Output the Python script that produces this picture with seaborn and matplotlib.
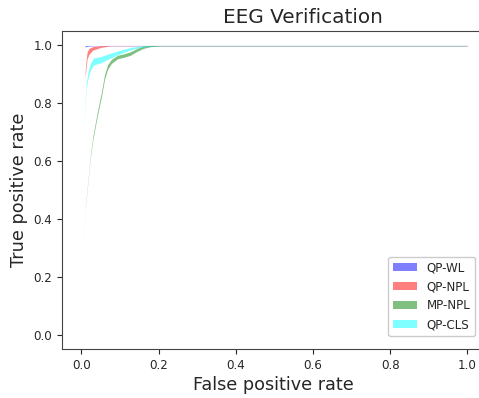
import numpy as np
import seaborn as sns
import matplotlib.pyplot as plt

# mean ROC curves (false positive rate grid, mean tpr, std of tpr)
methods = ['QP-WL', 'QP-NPL', 'MP-NPL', 'QP-CLS']
colors = ['blue', 'red', 'green', 'cyan']

wl_fpr = [0.010, 0.012, 0.02, 0.05, 0.2, 1.0]
wl_tpr = [0.996, 0.998, 0.999, 1.0, 1.0, 1.0]
wl_std = [0.003, 0.002, 0.001, 0.001, 0.001, 0.001]

npl_fpr = [0.010, 0.012, 0.015, 0.02, 0.03, 0.05, 0.075, 0.2, 1.0]
npl_tpr = [0.90, 0.93, 0.965, 0.980, 0.990, 0.996, 1.0, 1.0, 1.0]
npl_std = [0.010, 0.012, 0.012, 0.010, 0.006, 0.003, 0.001, 0.001, 0.001]

mp_fpr = [0.004, 0.007, 0.010, 0.015, 0.023, 0.030, 0.041, 0.052, 0.060,
          0.068, 0.078, 0.094, 0.110, 0.127, 0.145, 0.161, 0.18, 0.205, 1.0]
mp_tpr = [0.20, 0.33, 0.44, 0.50, 0.61, 0.68, 0.76, 0.83, 0.89,
          0.925, 0.945, 0.960, 0.965, 0.972, 0.985, 0.994, 0.998, 1.0, 1.0]
mp_std = [0.0005, 0.001, 0.002, 0.003, 0.004, 0.006, 0.007, 0.008, 0.008,
          0.008, 0.007, 0.006, 0.006, 0.006, 0.005, 0.004, 0.002, 0.001, 0.001]

cls_fpr = [0.002, 0.006, 0.010, 0.013, 0.017, 0.023, 0.032, 0.049, 0.07,
           0.10, 0.13, 0.16, 0.2, 1.0]
cls_tpr = [0.20, 0.70, 0.81, 0.86, 0.895, 0.925, 0.945, 0.950, 0.962,
           0.977, 0.990, 0.997, 1.0, 1.0]
cls_std = [0.0005, 0.002, 0.006, 0.009, 0.011, 0.012, 0.012, 0.011, 0.009,
           0.006, 0.004, 0.002, 0.001, 0.001]

curves = [(wl_fpr, wl_tpr, wl_std),
          (npl_fpr, npl_tpr, npl_std),
          (mp_fpr, mp_tpr, mp_std),
          (cls_fpr, cls_tpr, cls_std)]

sns.set_style('ticks')
plt.rcParams['font.family'] = ['DejaVu Sans']

fig = plt.figure(figsize=(4.79, 3.98), dpi=100)
# the plot area runs off the right edge of the picture
ax = fig.add_axes([62 / 479, 1 - 349 / 398, (530 - 62) / 479, (349 - 31) / 398])

for name, c, (fpr, tpr, std) in zip(methods, colors, curves):
    fpr = np.array(fpr)
    tpr = np.array(tpr)
    std = np.array(std)
    ax.fill_between(fpr, np.maximum(tpr - std, 0), np.minimum(tpr + std, 1),
                    color=c, alpha=0.5, linewidth=0, label=name)

ax.set_xlim(-0.05, -0.05 + (530 - 62) / 386)
ax.set_ylim(-0.05, 1.05)
ax.set_xticks([0.0, 0.2, 0.4, 0.6, 0.8, 1.0])
ax.set_yticks([0.0, 0.2, 0.4, 0.6, 0.8, 1.0])
ax.tick_params(labelsize=8.6, length=3.5, width=0.8)
ax.set_xlabel('False positive rate', fontsize=12.7)
ax.xaxis.set_label_coords((273 - 62) / (530 - 62), -0.085)
ax.set_ylabel('True positive rate', fontsize=12.7)
ax.set_title('EEG Verification', fontsize=14.4, x=(303 - 62) / (530 - 62))
for s in ax.spines.values():
    s.set_color('#444444')
ax.spines['right'].set_color('none')
ax.spines['right'].set_visible(False)

ax.legend(loc='lower right', fontsize=8.6, frameon=True, framealpha=1,
          edgecolor='#cccccc', fancybox=True,
          bbox_to_anchor=((475 - 62) / (530 - 62), (349 - 336) / (349 - 31)),
          borderaxespad=0)

fig.savefig('out.png', dpi=100)
